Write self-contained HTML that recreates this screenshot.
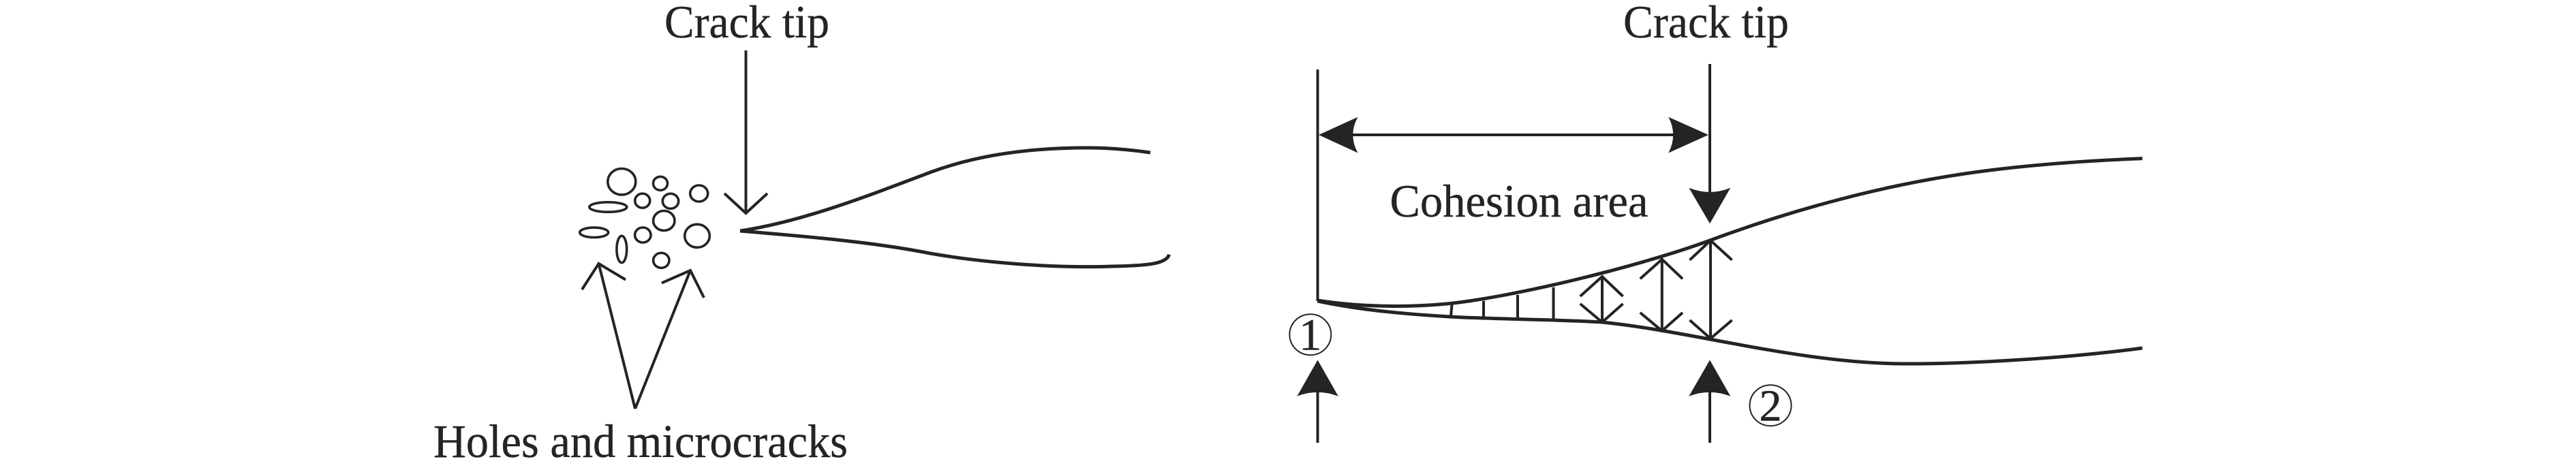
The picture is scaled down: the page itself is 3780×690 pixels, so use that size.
<!DOCTYPE html>
<html>
<head>
<meta charset="utf-8">
<style>
html,body{margin:0;padding:0;background:#fff;width:3780px;height:690px;overflow:hidden}
svg{display:block}
text{font-family:"Liberation Serif",serif;font-size:68px;fill:#262324;stroke:#262324;stroke-width:.4}
</style>
</head>
<body>
<svg width="3780" height="690" viewBox="0 0 3780 690" xmlns="http://www.w3.org/2000/svg">
<rect width="3780" height="690" fill="#fff"/>

<!-- Left figure -->
<text x="975" y="55" textLength="242" lengthAdjust="spacingAndGlyphs">Crack tip</text>
<text x="636" y="671" textLength="608" lengthAdjust="spacingAndGlyphs" style="font-size:69px">Holes and microcracks</text>

<g fill="none" stroke="#262324" stroke-width="4">
<line x1="1094.5" y1="74" x2="1094.5" y2="313"/>
<polyline points="1063,284 1094.5,313 1126,284"/>
<polyline points="932,600 878.5,387"/>
<polyline points="854,425 878.5,387 918,410.6"/>
<polyline points="932,600 1013,397"/>
<polyline points="971,415.4 1013,397 1033,437"/>
</g>
<g fill="none" stroke="#262324" stroke-width="3.6">
<ellipse cx="912.3" cy="266.7" rx="20.5" ry="19.2"/>
<ellipse cx="969" cy="269.3" rx="10.5" ry="10"/>
<ellipse cx="1025.7" cy="284" rx="13" ry="12"/>
<ellipse cx="942.7" cy="294.7" rx="11" ry="10.5"/>
<ellipse cx="984" cy="295.3" rx="11.7" ry="11"/>
<ellipse cx="892.3" cy="304" rx="27.5" ry="7.2"/>
<ellipse cx="974.3" cy="324" rx="15.7" ry="14.5"/>
<ellipse cx="871.7" cy="341.3" rx="21" ry="7.2"/>
<ellipse cx="943.3" cy="345" rx="11.7" ry="11"/>
<ellipse cx="1023" cy="346.3" rx="18.3" ry="17"/>
<ellipse cx="912.3" cy="366" rx="7.4" ry="19.7"/>
<ellipse cx="970.3" cy="382.3" rx="11.7" ry="11"/>
</g>
<g fill="none" stroke="#262324" stroke-width="5">
<path d="M1086 339 C1180 325 1280 285 1365 253 C1440 225 1520 217 1595 217 C1630 217 1660 220 1688 224"/>
<path d="M1086 339 C1180 347 1280 355 1365 372 C1440 385 1540 394 1633 391 C1680 390 1712 388 1715.5 373.6"/>
</g>

<!-- Right figure -->
<text x="2382" y="55" textLength="243" lengthAdjust="spacingAndGlyphs">Crack tip</text>
<text x="2039.5" y="318" textLength="379" lengthAdjust="spacingAndGlyphs">Cohesion area</text>

<g fill="none" stroke="#262324" stroke-width="4">
<line x1="1933.5" y1="102" x2="1933.5" y2="442"/>
<line x1="2509" y1="94" x2="2509" y2="300"/>
<line x1="1933.5" y1="570" x2="1933.5" y2="650"/>
<line x1="2509" y1="570" x2="2509" y2="650"/>
<line x1="2130.5" y1="447" x2="2129" y2="465"/>
<line x1="2177" y1="441.7" x2="2177" y2="466"/>
<line x1="2227" y1="433" x2="2227" y2="468"/>
<line x1="2279.5" y1="421.7" x2="2279.5" y2="471.7"/>
<line x1="2351" y1="406" x2="2351" y2="473"/>
<polyline points="2318.7,435 2351,406 2381.5,435"/>
<polyline points="2318.7,446 2351,473 2381.5,446"/>
<line x1="2438.8" y1="380.7" x2="2438.8" y2="485.7"/>
<polyline points="2406.7,409.3 2438.8,380.7 2469,409.3"/>
<polyline points="2406.7,459 2438.8,485.7 2469,459"/>
<line x1="2510" y1="353" x2="2510" y2="497"/>
<polyline points="2479.5,381.7 2510,353 2541.5,381.7"/>
<polyline points="2479.5,470 2510,497 2541.5,470"/>
<line x1="1985" y1="198" x2="2456" y2="198"/>
</g>
<g fill="#262324">
<path d="M1935 198 L1992.5 171.7 Q1978 198 1992.5 224.5 Z"/>
<path d="M2507 198 L2448.3 171.7 Q2462 198 2448.3 224.5 Z"/>
<path d="M2509 328.3 L2478.3 275.7 Q2509 288 2539.3 275.7 Z"/>
<path d="M1933.5 528.5 L1903.3 581.7 Q1933.5 570 1963.8 581.7 Z"/>
<path d="M2509 528.5 L2478.3 581.7 Q2509 570 2539.3 581.7 Z"/>
</g>
<g fill="none" stroke="#262324" stroke-width="5">
<path d="M1933.5 441 C1990 450 2060 452 2123 446 C2215 437 2400 393 2509 353 C2630 308 2760 273 2883 255 C2970 242 3060 236 3143.7 232.6"/>
<path d="M1933.5 442 C1995 455 2060 461 2127.7 465 C2200 469 2290 469 2351 473 C2400 478 2450 487 2509 498 C2600 515 2700 534 2797 534 C2900 534 3040 525 3143.7 511"/>
</g>

<!-- Circled numbers -->
<ellipse cx="1922.8" cy="491.2" rx="30.5" ry="30" fill="none" stroke="#262324" stroke-width="2"/>
<text x="1922.8" y="513.5" text-anchor="middle" style="font-size:66px;stroke-width:.6">1</text>
<ellipse cx="2598" cy="595.2" rx="30.5" ry="30" fill="none" stroke="#262324" stroke-width="2"/>
<text x="2598" y="617.5" text-anchor="middle" style="font-size:66px;stroke-width:.6">2</text>
</svg>
</body>
</html>
